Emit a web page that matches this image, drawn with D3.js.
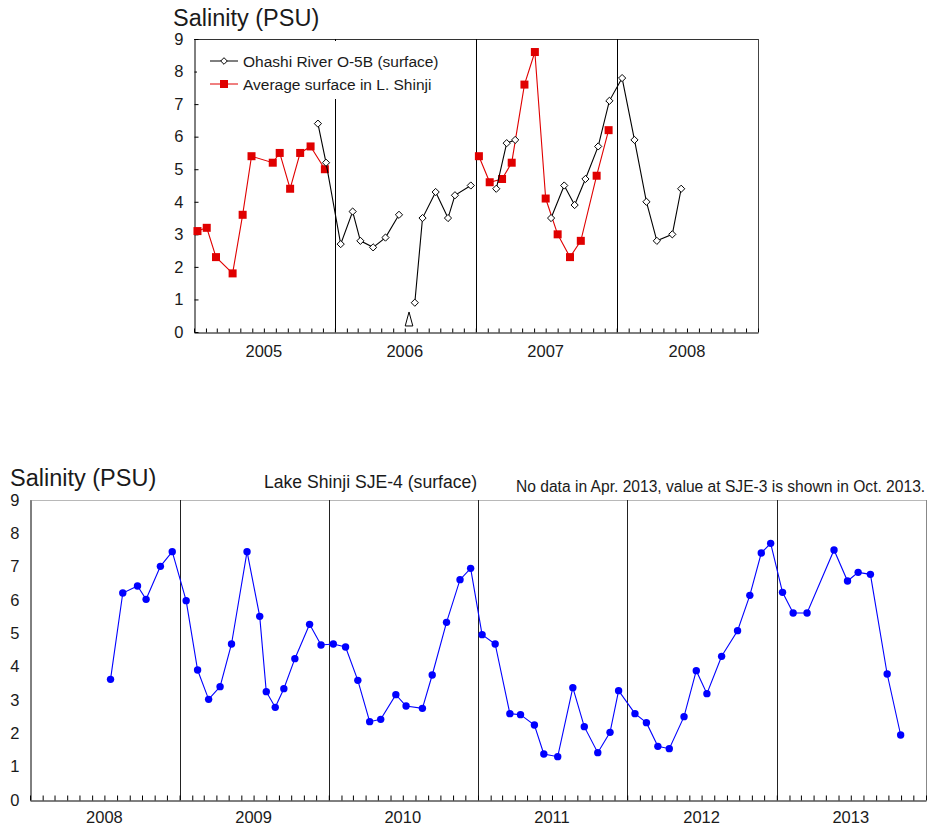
<!DOCTYPE html>
<html>
<head>
<meta charset="utf-8">
<script src="https://cdn.jsdelivr.net/npm/d3@7"></script>
<style>
  body { margin: 0; background: #fff; }
  svg text { font-family: "Liberation Sans", Arial, sans-serif; fill: #1a1a1a; }
</style>
</head>
<body>
<div id="chart"></div>
<script>
const yTicks = [0, 1, 2, 3, 4, 5, 6, 7, 8, 9];
const topYears = ['2005', '2006', '2007', '2008'];
const bottomYears = ['2008', '2009', '2010', '2011', '2012', '2013'];

// Ohashi River O-5B (surface), null = break in the line
const ohashiDates = [
  '2005-11-18', '2005-12-09', '2006-01-16', '2006-02-16', '2006-03-08', '2006-04-10', '2006-05-12', '2006-06-16', null,
  '2006-07-27', '2006-08-16', '2006-09-19', '2006-10-21', '2006-11-08', '2006-12-19', null,
  '2007-02-23', '2007-03-22', '2007-04-13', null,
  '2007-07-15', '2007-08-18', '2007-09-14', '2007-10-12', '2007-11-14', '2007-12-13',
  '2008-01-15', '2008-02-16', '2008-03-18', '2008-04-14', '2008-05-24', '2008-06-16'
];
const ohashiValues = [
  6.4, 5.2, 2.7, 3.7, 2.8, 2.6, 2.9, 3.6, null,
  0.9, 3.5, 4.3, 3.5, 4.2, 4.5, null,
  4.4, 5.8, 5.9, null,
  3.5, 4.5, 3.9, 4.7, 5.7, 7.1,
  7.8, 5.9, 4.0, 2.8, 3.0, 4.4
];

// Average surface in L. Shinji
const shinjiDates = [
  '2005-01-10', '2005-02-03', '2005-02-27', '2005-04-11', '2005-05-07', '2005-05-30',
  '2005-07-24', '2005-08-11', '2005-09-07', '2005-10-03', '2005-10-30', '2005-12-06', null,
  '2007-01-09', '2007-02-06', '2007-03-10', '2007-04-04', '2007-05-07', '2007-06-03',
  '2007-07-01', '2007-08-01', '2007-09-02', '2007-09-30', '2007-11-10', '2007-12-11'
];
const shinjiValues = [
  3.1, 3.2, 2.3, 1.8, 3.6, 5.4,
  5.2, 5.5, 4.4, 5.5, 5.7, 5.0, null,
  5.4, 4.6, 4.7, 5.2, 7.6, 8.6,
  4.1, 3.0, 2.3, 2.8, 4.8, 6.2
];

// open triangle below the Jul 2006 value
const lowMarkDate = '2006-07-12';
const lowMarkValue = 0.4;

// Lake Shinji SJE-4 (surface)
const sje4Dates = [
  '2008-07-16', '2008-08-15', '2008-09-20', '2008-10-11', '2008-11-15', '2008-12-14',
  '2009-01-17', '2009-02-14', '2009-03-13', '2009-04-10', '2009-05-08', '2009-06-15',
  '2009-07-16', '2009-08-01', '2009-08-23', '2009-09-13', '2009-10-10', '2009-11-15', '2009-12-13',
  '2010-01-12', '2010-02-11', '2010-03-13', '2010-04-11', '2010-05-08', '2010-06-14',
  '2010-07-09', '2010-08-18', '2010-09-11', '2010-10-16', '2010-11-18', '2010-12-14',
  '2011-01-11', '2011-02-12', '2011-03-20', '2011-04-15', '2011-05-19', '2011-06-11',
  '2011-07-15', '2011-08-21', '2011-09-18', '2011-10-21', '2011-11-20', '2011-12-11',
  '2012-01-20', '2012-02-17', '2012-03-16', '2012-04-13', '2012-05-19', '2012-06-18',
  '2012-07-14', '2012-08-19', '2012-09-27', '2012-10-27', '2012-11-24', '2012-12-17',
  '2013-01-15', '2013-02-10', '2013-03-16', '2013-05-21', '2013-06-23', '2013-07-19',
  '2013-08-18', '2013-09-28', '2013-10-31'
];
const sje4Values = [
  3.62, 6.21, 6.42, 6.02, 7.01, 7.45,
  5.98, 3.90, 3.02, 3.40, 4.68, 7.45,
  5.51, 3.25, 2.78, 3.34, 4.24, 5.27, 4.65,
  4.68, 4.59, 3.59, 2.35, 2.42, 3.16,
  2.82, 2.75, 3.75, 5.33, 6.61, 6.95,
  4.96, 4.68, 2.59, 2.56, 2.25, 1.38,
  1.30, 3.37, 2.20, 1.42, 2.03, 3.28,
  2.59, 2.32, 1.61, 1.54, 2.50, 3.88,
  3.19, 4.31, 5.08, 6.14, 7.41, 7.70,
  6.23, 5.61, 5.61, 7.50, 6.57, 6.83,
  6.77, 3.78, 1.95
];

const parse = d3.timeParse('%Y-%m-%d');
const pairs = (dates, values) => dates.map((d, i) => d === null ? null : { date: parse(d), value: values[i] });

const svg = d3.select('#chart')
              .append('svg')
              .attr('width', 935)
              .attr('height', 825);

function panel(cfg) {
  const x = d3.scaleTime()
              .domain([parse(cfg.years[0] + '-01-01'), parse((+cfg.years[cfg.years.length - 1] + 1) + '-01-01')])
              .range([cfg.left, cfg.right]);
  const y = d3.scaleLinear()
              .domain([0, 9])
              .range([cfg.bottom, cfg.top]);
  const g = svg.append('g');

  g.append('line')
   .attr('x1', cfg.left).attr('x2', cfg.right)
   .attr('y1', cfg.top + 0.5).attr('y2', cfg.top + 0.5)
   .attr('stroke', cfg.topColor);
  g.append('line')
   .attr('x1', cfg.right + 0.5).attr('x2', cfg.right + 0.5)
   .attr('y1', cfg.top).attr('y2', cfg.bottom)
   .attr('stroke', cfg.rightColor);

  const yearStarts = cfg.years.slice(1).map(yr => parse(yr + '-01-01'));
  g.selectAll('.year-line')
   .data(yearStarts)
   .enter()
   .append('line')
   .attr('class', 'year-line')
   .attr('x1', d => Math.round(x(d)) + 0.5)
   .attr('x2', d => Math.round(x(d)) + 0.5)
   .attr('y1', cfg.top)
   .attr('y2', cfg.bottom)
   .attr('stroke', cfg.lineColor);

  const xAxis = d3.axisBottom(x)
                  .ticks(d3.timeMonth.every(1))
                  .tickSize(-cfg.tick)
                  .tickSizeOuter(0)
                  .tickFormat('');
  const xg = g.append('g')
              .attr('transform', `translate(0, ${cfg.bottom + 0.5})`)
              .call(xAxis);
  xg.select('.domain').attr('stroke', '#000');
  xg.selectAll('.tick line').attr('stroke', '#000');

  const yAxis = d3.axisLeft(y)
                  .tickValues(yTicks)
                  .tickSize(-cfg.yTick)
                  .tickSizeOuter(0)
                  .tickPadding(cfg.labelGap);
  const yg = g.append('g')
              .attr('transform', `translate(${cfg.left + 0.5}, 0)`)
              .call(yAxis);
  yg.select('.domain').attr('stroke', '#000');
  yg.selectAll('.tick line').attr('stroke', '#000');
  yg.selectAll('text')
    .attr('font-size', cfg.tickFont)
    .attr('font-family', '"Liberation Sans", Arial, sans-serif')
    .attr('fill', '#1a1a1a');

  g.selectAll('.year-label')
   .data(cfg.years)
   .enter()
   .append('text')
   .attr('class', 'year-label')
   .attr('x', yr => x(parse(yr + '-07-01')))
   .attr('y', cfg.yearBaseline)
   .attr('text-anchor', 'middle')
   .attr('font-size', cfg.tickFont)
   .text(yr => yr);

  g.append('text')
   .attr('x', cfg.titleX)
   .attr('y', cfg.titleY)
   .attr('font-size', 23.5)
   .text('Salinity (PSU)');

  return { x, y, g };
}

function series(p, data, color) {
  const line = d3.line()
                 .defined(d => d !== null)
                 .x(d => p.x(d.date))
                 .y(d => p.y(d.value));
  p.g.append('path')
   .datum(data)
   .attr('fill', 'none')
   .attr('stroke', color)
   .attr('stroke-width', 1.1)
   .attr('d', line);
  return data.filter(d => d !== null);
}

const diamond = r => `M0,${-r}L${r},0L0,${r}L${-r},0Z`;

// ---- top panel: 2005-2008
const topPanel = panel({
  years: topYears, left: 194, right: 758, top: 39, bottom: 332,
  topColor: '#333', rightColor: '#444', lineColor: '#000',
  tick: 4, yTick: 4, labelGap: 11, tickFont: 16.5,
  yearBaseline: 357, titleX: 173, titleY: 26
});

const legend = topPanel.g.append('g');
legend.append('rect')
      .attr('x', 197).attr('y', 41)
      .attr('width', 250).attr('height', 58)
      .attr('fill', '#fff');

const shinjiPts = series(topPanel, pairs(shinjiDates, shinjiValues), '#e00000');
topPanel.g.selectAll('.sq')
     .data(shinjiPts)
     .enter()
     .append('rect')
     .attr('class', 'sq')
     .attr('x', d => topPanel.x(d.date) - 4)
     .attr('y', d => topPanel.y(d.value) - 4)
     .attr('width', 8)
     .attr('height', 8)
     .attr('fill', '#e00000');

const ohashiPts = series(topPanel, pairs(ohashiDates, ohashiValues), '#000');
topPanel.g.selectAll('.dm')
     .data(ohashiPts)
     .enter()
     .append('path')
     .attr('class', 'dm')
     .attr('transform', d => `translate(${topPanel.x(d.date)}, ${topPanel.y(d.value)})`)
     .attr('d', diamond(3.6))
     .attr('fill', '#fff')
     .attr('stroke', '#000')
     .attr('stroke-width', 1);

topPanel.g.append('path')
     .attr('transform', `translate(${topPanel.x(parse(lowMarkDate))}, ${topPanel.y(lowMarkValue)})`)
     .attr('d', 'M0,-7L3.8,7L-3.8,7Z')
     .attr('fill', '#fff')
     .attr('stroke', '#000')
     .attr('stroke-width', 1);

const legendRows = [
  { label: 'Ohashi River O-5B (surface)', color: '#000', y: 61 },
  { label: 'Average surface in L. Shinji', color: '#e00000', y: 84 }
];
legendRows.forEach((row, i) => {
  legend.append('line')
        .attr('x1', 210).attr('x2', 238)
        .attr('y1', row.y).attr('y2', row.y)
        .attr('stroke', row.color);
  if (i === 0) {
    legend.append('path')
          .attr('transform', `translate(224, ${row.y})`)
          .attr('d', diamond(3.3))
          .attr('fill', '#fff')
          .attr('stroke', '#000');
  } else {
    legend.append('rect')
          .attr('x', 220).attr('y', row.y - 4)
          .attr('width', 8).attr('height', 8)
          .attr('fill', '#e00000');
  }
  legend.append('text')
        .attr('x', 243)
        .attr('y', row.y + 6)
        .attr('font-size', 15.5)
        .text(row.label);
});

// ---- bottom panel: 2008-2013
const bottomPanel = panel({
  years: bottomYears, left: 30, right: 926, top: 500, bottom: 800,
  topColor: '#b8b8b8', rightColor: '#888', lineColor: '#222',
  tick: 5, yTick: 0, labelGap: 11, tickFont: 16.5,
  yearBaseline: 823, titleX: 10, titleY: 486
});

const sje4Pts = series(bottomPanel, pairs(sje4Dates, sje4Values), '#0000ff');
bottomPanel.g.selectAll('.dot')
        .data(sje4Pts)
        .enter()
        .append('circle')
        .attr('class', 'dot')
        .attr('cx', d => bottomPanel.x(d.date))
        .attr('cy', d => bottomPanel.y(d.value))
        .attr('r', 3.7)
        .attr('fill', '#0000ff');

bottomPanel.g.append('text')
        .attr('x', 264)
        .attr('y', 488)
        .attr('font-size', 17.6)
        .text('Lake Shinji SJE-4 (surface)');

bottomPanel.g.append('text')
        .attr('x', 516)
        .attr('y', 492)
        .attr('font-size', 15.6)
        .text('No data in Apr. 2013, value at SJE-3 is shown in Oct. 2013.');
</script>
</body>
</html>
